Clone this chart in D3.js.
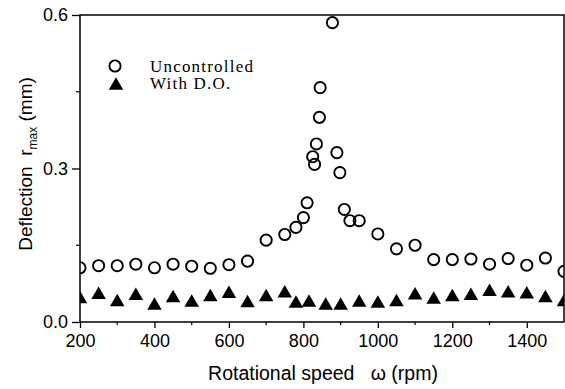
<!DOCTYPE html>
<html>
<head>
<meta charset="utf-8">
<script src="https://cdn.jsdelivr.net/npm/d3@7"></script>
<style>
  body { margin: 0; background: #fff; }
  text { fill: #000; }
</style>
</head>
<body>
<div id="chart"></div>
<script>
const width = 565,
    height = 389;
const margin = { left: 80, right: 1, top: 15, bottom: 67 };

// rotational speed (rpm) and max deflection (mm)
const uncontrolledSpeed = [200, 250, 300, 350, 400, 450, 500, 550, 600, 650, 700, 750, 780, 800, 810,
    825, 830, 835, 843, 845, 878, 890, 898, 910, 925, 950, 1000, 1050, 1100, 1150, 1200, 1250, 1300,
    1350, 1400, 1450, 1500];
const uncontrolledDefl = [0.106, 0.110, 0.110, 0.113, 0.106, 0.113, 0.109, 0.105, 0.112, 0.119, 0.160,
    0.171, 0.185, 0.204, 0.233, 0.323, 0.308, 0.348, 0.400, 0.458, 0.585, 0.331, 0.292, 0.220, 0.198,
    0.198, 0.172, 0.143, 0.150, 0.122, 0.122, 0.123, 0.113, 0.124, 0.111, 0.125, 0.099];

const doSpeed = [200, 250, 300, 350, 400, 450, 500, 550, 600, 650, 700, 750, 780, 815, 860, 900, 950,
    1000, 1050, 1100, 1150, 1200, 1250, 1300, 1350, 1400, 1450, 1500];
const doDefl = [0.049, 0.057, 0.043, 0.055, 0.036, 0.051, 0.042, 0.053, 0.059, 0.041, 0.053, 0.060,
    0.040, 0.042, 0.036, 0.036, 0.042, 0.040, 0.043, 0.056, 0.048, 0.053, 0.055, 0.063, 0.060, 0.058,
    0.051, 0.043];

const xTicks = [200, 400, 600, 800, 1000, 1200, 1400];
const xMinor = [300, 500, 700, 900, 1100, 1300];
const yTicks = [0.0, 0.3, 0.6];
const yMinor = [0.15, 0.45];
const legendLabels = ["Uncontrolled", "With D.O."];

const svg = d3.select("#chart")
    .append("svg")
    .attr("width", width)
    .attr("height", height);

const x = d3.scaleLinear().domain([200, 1500]).range([margin.left, width - margin.right]);
const y = d3.scaleLinear().domain([0, 0.6]).range([height - margin.bottom, margin.top]);

svg.append("clipPath").attr("id", "clip")
    .append("rect")
    .attr("x", margin.left).attr("y", margin.top)
    .attr("width", width - margin.left - margin.right)
    .attr("height", height - margin.top - margin.bottom);

const plot = svg.append("g").attr("clip-path", "url(#clip)");

// open circles
plot.selectAll("circle.unc")
    .data(uncontrolledSpeed)
    .join("circle")
    .attr("class", "unc")
    .attr("cx", d => x(d))
    .attr("cy", (d, i) => y(uncontrolledDefl[i]))
    .attr("r", 5.6)
    .attr("fill", "none")
    .attr("stroke", "#000")
    .attr("stroke-width", 1.9);

// filled triangles, centred on their bounding box
const tri = (cx, cy, w = 14.5, h = 12.5) =>
    `M${cx - w / 2},${cy + h / 2}L${cx + w / 2},${cy + h / 2}L${cx},${cy - h / 2}Z`;

plot.selectAll("path.do")
    .data(doSpeed)
    .join("path")
    .attr("class", "do")
    .attr("d", (d, i) => tri(x(d), y(doDefl[i])))
    .attr("fill", "#000");

// frame
svg.append("rect")
    .attr("x", margin.left).attr("y", margin.top)
    .attr("width", width - margin.left - margin.right)
    .attr("height", height - margin.top - margin.bottom)
    .attr("fill", "none")
    .attr("stroke", "#000")
    .attr("stroke-width", 1.5);

// axes
const xAxis = svg.append("g")
    .attr("transform", `translate(0,${height - margin.bottom})`)
    .call(d3.axisBottom(x).tickValues(xTicks).tickSize(6).tickPadding(6).tickFormat(d3.format("d")));
svg.append("g")
    .selectAll("line")
    .data(xMinor)
    .join("line")
    .attr("x1", d => x(d)).attr("x2", d => x(d))
    .attr("y1", height - margin.bottom).attr("y2", height - margin.bottom + 3)
    .attr("stroke", "#000").attr("stroke-width", 1.2);

const yAxis = svg.append("g")
    .attr("transform", `translate(${margin.left},0)`)
    .call(d3.axisLeft(y).tickValues(yTicks).tickSize(8).tickPadding(4).tickFormat(d3.format(".1f")));
svg.append("g")
    .selectAll("line")
    .data(yMinor)
    .join("line")
    .attr("x1", margin.left - 4).attr("x2", margin.left)
    .attr("y1", d => y(d)).attr("y2", d => y(d))
    .attr("stroke", "#000").attr("stroke-width", 1.2);

[xAxis, yAxis].forEach(a => {
    a.select(".domain").remove();
    a.selectAll(".tick line").attr("stroke-width", 1.3);
    a.selectAll(".tick text")
        .style("font-family", "'Liberation Sans', Arial, sans-serif")
        .style("font-size", "18px");
});

// axis titles
svg.append("text")
    .attr("x", 323)
    .attr("y", 380)
    .attr("text-anchor", "middle")
    .style("font-family", "'Liberation Sans', Arial, sans-serif")
    .style("font-size", "19.5px")
    .html("Rotational speed&#160;&#160;&#160;ω (rpm)");

const yl = svg.append("text")
    .attr("transform", "translate(32,164) rotate(-90)")
    .attr("text-anchor", "middle")
    .style("font-family", "'Liberation Sans', Arial, sans-serif")
    .style("font-size", "19px");
yl.append("tspan").text("Deflection\u00a0\u00a0r");
yl.append("tspan").attr("dy", 5).style("font-size", "12px").text("max");
yl.append("tspan").attr("dy", -5).text("\u00a0(mm)");

// legend
const legend = svg.append("g");
legend.append("circle")
    .attr("cx", 115).attr("cy", 66).attr("r", 5.6)
    .attr("fill", "none").attr("stroke", "#000").attr("stroke-width", 1.9);
legend.append("path")
    .attr("d", tri(116, 83.5))
    .attr("fill", "#000");
legend.selectAll("text")
    .data(legendLabels)
    .join("text")
    .attr("x", 150)
    .attr("y", (d, i) => 71.5 + i * 17.5)
    .style("font-family", "'Liberation Serif', 'Times New Roman', serif")
    .style("font-size", "17px")
    .style("letter-spacing", "1.2px")
    .text(d => d);
</script>
</body>
</html>
